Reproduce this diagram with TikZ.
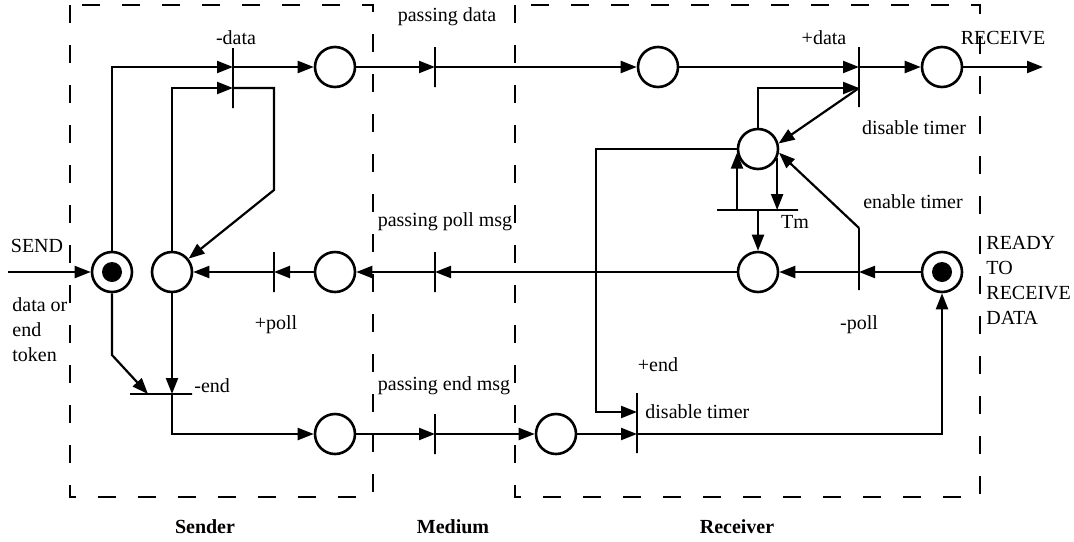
\documentclass[tikz,border=0pt]{standalone}
\usepackage{fontspec}
\setmainfont{Liberation Serif}
\usetikzlibrary{arrows.meta,calc}

\begin{document}
\begin{tikzpicture}[x=0.5pt,y=-0.5pt,
  every node/.style={font=\fontsize{10}{12.5}\selectfont},
  place/.style={circle,draw,line width=1.3pt,minimum size=20pt,inner sep=0pt},
  marked/.style={place,path picture={\fill (path picture bounding box.center) circle (5pt);}},
  vtrans/.style={rectangle,draw,line width=1.1pt,minimum width=0pt,minimum height=#1,inner sep=0pt,outer sep=0pt},
  htrans/.style={rectangle,draw,line width=1.1pt,minimum height=0pt,minimum width=#1,inner sep=0pt,outer sep=0pt},
  arc/.style={line width=1.1pt,-{Triangle[length=8pt,width=6pt]}},
  zone/.style={line width=1.1pt,dash pattern=on 9pt off 11pt},
  tight/.style={inner sep=0pt,anchor=west,align=left},
  title/.style={font=\fontsize{10}{12}\selectfont\bfseries}
]
\useasboundingbox (0,0) rectangle (1074,541);

% sender and receiver boundaries
\draw[zone] (70,5) rectangle (373,497);
\draw[zone] (515,5) rectangle (980,497);

% places
\node[marked] (pS)  at (112,272) {};
\node[place]  (pA)  at (172,272) {};
\node[place]  (pD1) at (335,67) {};
\node[place]  (pP1) at (335,272) {};
\node[place]  (pE1) at (335,434) {};
\node[place]  (pD2) at (658,67) {};
\node[place]  (pR)  at (942,67) {};
\node[place]  (pT)  at (758,149) {};
\node[place]  (pP2) at (758,272) {};
\node[marked] (pRd) at (942,272) {};
\node[place]  (pE2) at (556,434) {};

% transitions
\node[vtrans=30pt] (tData)      at (233,78) {};
\node[vtrans=20pt] (tPD)        at (435,67) {};
\node[vtrans=30pt] (tPlusData)  at (859,77) {};
\node[vtrans=20pt] (tPoll)      at (274,272) {};
\node[vtrans=20pt] (tPPM)       at (435,272) {};
\node[vtrans=31pt] (tMinusPoll) at (859,259) {};
\node[vtrans=20pt] (tPEM)       at (435,434) {};
\node[vtrans=30pt] (tPlusEnd)   at (637,423) {};
\node[htrans=40.5pt] (tTm)      at (757.5,210) {};
\node[htrans=31pt] (tEnd)       at (161,394) {};

% helper points
\coordinate (sendIn)  at (8,272);
\coordinate (recvOut) at (1043,67);
\coordinate (fb)      at (0,88);
\coordinate (kS1)     at (274,190);
\coordinate (kS2)     at (112,355);
\coordinate (kR2)     at (596,412);

% sender
\draw[arc] (sendIn) -- (pS);
\draw[arc] (pS) |- (tData.center |- pD1);
\draw[arc] (pA) |- (tData.center |- fb);
\draw[arc] (tData.center |- pD1) -- (pD1);
\draw[arc] (tData.center |- fb) -| (kS1) -- (pA);

% data channel
\draw[arc] (pD1) -- (tPD);
\draw[arc] (tPD) -- (pD2);
\draw[arc] (pD2) -- (tPlusData.center |- pD2);
\draw[arc] (tPlusData.center |- pR) -- (pR);
\draw[arc] (pR) -- (recvOut);

% timer
\draw[arc] (pT) |- (tPlusData.center |- fb);
\draw[arc] (tPlusData.center |- fb) -- (pT.15);
\draw[arc] (tMinusPoll.north) -- (pT.-10);
\draw[arc] (pT.-26) -- (pT.-26 |- tTm);
\draw[arc] (pT.190 |- tTm) -- (pT.190);
\draw[arc] (tTm.center -| pP2) -- (pP2);

% poll channel
\draw[arc] (pRd) -- (tMinusPoll.center |- pRd);
\draw[arc] (tMinusPoll.center |- pP2) -- (pP2);
\draw[arc] (pP2) -- (tPPM);
\draw[arc] (tPPM) -- (pP1);
\draw[arc] (pP1) -- (tPoll);
\draw[arc] (tPoll) -- (pA);

% end channel
\draw[arc] (pS) -- (kS2) -- ([xshift=-6.5pt]tEnd.center);
\draw[arc] (pA) -- (pA |- tEnd);
\draw[arc] (pA |- tEnd) |- (pE1);
\draw[arc] (pE1) -- (tPEM);
\draw[arc] (tPEM) -- (pE2);
\draw[arc] (pE2) -- (tPlusEnd.center |- pE2);
\draw[arc] (tPlusEnd.center |- pE2) -| (pRd);
\draw[arc] (pT.west) -| (kR2) -- (tPlusEnd.center |- kR2);

% labels
\node at (236,38) {-data};
\node at (447,17) {passing data};
\node at (824,38) {+data};
\node at (1003,38) {RECEIVE};
\node at (914,128) {disable timer};
\node at (913,202) {enable timer};
\node at (795,222) {Tm};
\node at (445,222) {passing poll msg};
\node at (37,246) {SEND};
\node[tight] at (12,330) {data or\\end\\token};
\node at (276,325) {+poll};
\node[tight] at (194,386) {-end};
\node at (444,386) {passing end msg};
\node at (658,365) {+end};
\node[tight] at (645,412) {disable timer};
\node at (859,325) {-poll};
\node[tight] at (986,280) {READY\\TO\\RECEIVE\\DATA};
\node[title] at (205,527) {Sender};
\node[title] at (453,527) {Medium};
\node[title] at (737,527) {Receiver};
\end{tikzpicture}
\end{document}
